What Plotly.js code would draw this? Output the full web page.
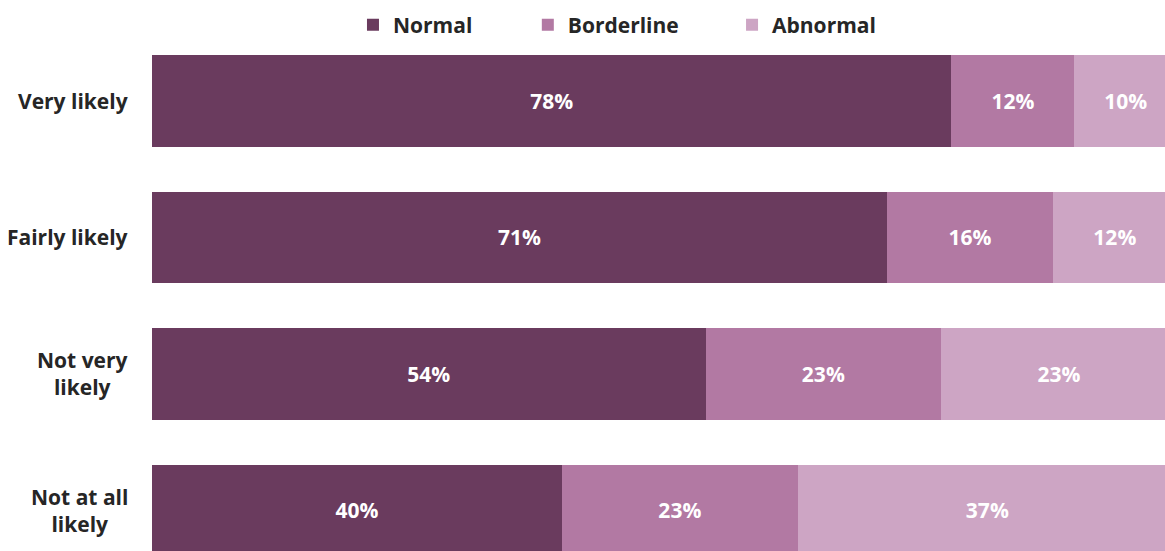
<!DOCTYPE html>
<html>
<head>
<meta charset="utf-8">
<script src="https://cdn.plot.ly/plotly-3.0.1.min.js"></script>
<style>
html,body{margin:0;padding:0;background:#fff;}
#chart{width:1165px;height:551px;}
</style>
</head>
<body>
<div id="chart"></div>
<script>
// Data
const categories = ["Very likely", "Fairly likely", "Not very likely", "Not at all likely"];
const categoryLabels = ["Very likely", "Fairly likely", "Not very<br>likely", "Not at all<br>likely"];
const seriesNames = ["Normal", "Borderline", "Abnormal"];
const normal = [78, 71, 54, 40];
const borderline = [12, 16, 23, 23];
const abnormal = [10, 12, 23, 37];

const colors = ["#6a3b5e", "#b279a3", "#cda5c4"];
const FONT = "Open Sans, Noto Sans, sans-serif";
const seriesValues = [normal, borderline, abnormal];
const legendIds = ["legend", "legend2", "legend3"];

const traces = seriesValues.map((vals, i) => ({
  type: "bar",
  orientation: "h",
  name: seriesNames[i],
  y: categories,
  x: vals,
  width: 0.67,
  marker: {color: colors[i], line: {width: 0}},
  text: vals.map(v => v + "%"),
  textposition: "inside",
  insidetextanchor: "middle",
  textangle: 0,
  constraintext: "none",
  textfont: {family: FONT, size: 21, color: "#ffffff", weight: 700},
  hoverinfo: "name+text",
  legend: legendIds[i]
}));

const legendBase = {
  orientation: "h",
  yanchor: "middle",
  xanchor: "left",
  y: 0.9546,
  bgcolor: "rgba(0,0,0,0)",
  font: {family: FONT, size: 21, color: "#262626", weight: 700}
};

const layout = {
  width: 1165,
  height: 551,
  margin: {l: 152, r: 0, t: 0, b: 0, pad: 0},
  paper_bgcolor: "#ffffff",
  plot_bgcolor: "#ffffff",
  barmode: "stack",
  barnorm: "percent",
  showlegend: true,
  legend: Object.assign({}, legendBase, {x: 0.1984}),
  legend2: Object.assign({}, legendBase, {x: 0.371}),
  legend3: Object.assign({}, legendBase, {x: 0.5726}),
  xaxis: {visible: false, range: [0, 98.83], fixedrange: true},
  yaxis: {
    type: "category",
    categoryarray: categories,
    range: [3.297, -0.740],
    showticklabels: false,
    showgrid: false,
    zeroline: false,
    showline: false,
    ticks: "",
    fixedrange: true
  },
  annotations: categories.map((c, i) => ({
    xref: "paper", yref: "y",
    x: -0.0217, y: c,
    xanchor: "right", yanchor: "middle",
    text: categoryLabels[i],
    align: "center",
    showarrow: false,
    font: {family: FONT, size: 21, color: "#262626", weight: 700}
  }))
};

Plotly.newPlot("chart", traces, layout, {displayModeBar: false, staticPlot: true});
</script>
</body>
</html>
